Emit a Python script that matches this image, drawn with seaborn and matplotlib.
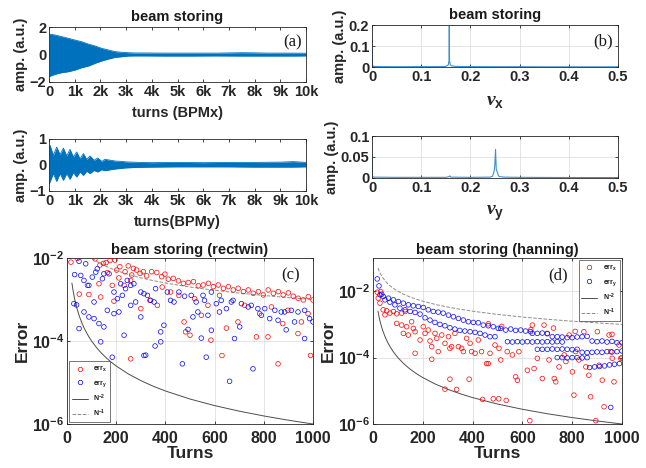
import matplotlib

matplotlib.use("Agg")
import matplotlib.pyplot as plt
import matplotlib.ticker as mticker
import seaborn as sns
from matplotlib.lines import Line2D

# ---- envelope of the turn-by-turn signals ----
bpmx_turns = [0, 233, 493, 752, 1012, 1271, 1530, 1790, 2049, 2309, 2568, 2827, 3087,
              3346, 3735, 4500, 5500, 6500, 7500, 8000, 8500, 9500, 10000]
bpmx_upper = [1.49, 1.42, 1.30, 1.18, 1.05, 0.93, 0.76, 0.62, 0.45, 0.33, 0.21, 0.16, 0.13,
              0.11, 0.11, 0.10, 0.10, 0.10, 0.13, 0.12, 0.10, 0.10, 0.09]
bpmx_lower = [-1.61, -1.44, -1.32, -1.25, -1.13, -0.96, -0.84, -0.64, -0.47, -0.33, -0.21,
              -0.16, -0.11, -0.10, -0.10, -0.11, -0.11, -0.10, -0.11, -0.11, -0.11, -0.11, -0.10]

bpmy_turns = [0, 39, 169, 298, 428, 558, 687, 817, 947, 1077, 1206, 1336, 1466, 1595, 1751,
              1894, 2049, 2179, 2400, 2600, 2800, 3000, 3500, 4000, 5000, 6000, 7000, 8000,
              9000, 9500, 10000]
bpmy_upper = [0.65, 0.76, 0.37, 0.69, 0.40, 0.65, 0.35, 0.60, 0.31, 0.50, 0.24, 0.44, 0.22,
              0.35, 0.18, 0.27, 0.14, 0.22, 0.18, 0.15, 0.14, 0.12, 0.10, 0.09, 0.10, 0.09,
              0.10, 0.10, 0.11, 0.13, 0.10]
bpmy_lower = [-0.75, -0.65, -0.33, -0.63, -0.33, -0.59, -0.33, -0.55, -0.29, -0.46, -0.27,
              -0.40, -0.24, -0.33, -0.21, -0.27, -0.18, -0.22, -0.18, -0.15, -0.13, -0.11,
              -0.09, -0.08, -0.07, -0.07, -0.07, -0.08, -0.08, -0.08, -0.07]

turn_ticks = [0, 1000, 2000, 3000, 4000, 5000, 6000, 7000, 8000, 9000, 10000]
turn_tick_labels = ["0", "1k", "2k", "3k", "4k", "5k", "6k", "7k", "8k", "9k", "10k"]

# ---- spectra ----
nux = [0, 0.0005, 0.003, 0.02, 0.05, 0.1, 0.14, 0.15, 0.152, 0.155, 0.1565, 0.157, 0.1575,
       0.159, 0.162, 0.17, 0.2, 0.25, 0.3, 0.35, 0.4, 0.45, 0.5]
ampx = [0.13, 0.01, 0.003, 0.002, 0.0015, 0.002, 0.002, 0.003, 0.006, 0.01, 0.03, 0.195,
        0.03, 0.01, 0.005, 0.003, 0.002, 0.0015, 0.0015, 0.001, 0.001, 0.001, 0.001]
nuy = [0, 0.0005, 0.003, 0.05, 0.1, 0.15, 0.156, 0.158, 0.16, 0.2, 0.24, 0.245, 0.247,
       0.248, 0.2495, 0.251, 0.2525, 0.254, 0.255, 0.257, 0.26, 0.27, 0.3, 0.4, 0.5]
ampy = [0.055, 0.004, 0.002, 0.0015, 0.0015, 0.0015, 0.003, 0.005, 0.002, 0.0015, 0.002,
        0.004, 0.012, 0.015, 0.03, 0.068, 0.02, 0.016, 0.013, 0.005, 0.003, 0.002, 0.0015,
        0.001, 0.001]

# ---- tune errors, (turns, log10 error) ----
rect_errx = [
    (16, -2.10), (42, -2.01), (114, -2.02), (134, -2.17), (148, -2.13), (159, -2.11),
    (175, -2.06), (195, -2.05), (164, -2.35), (202, -2.29), (215, -2.21), (236, -2.33),
    (249, -2.19), (263, -2.41), (270, -2.25), (283, -2.29), (297, -2.37), (310, -2.33),
    (324, -2.43), (344, -2.33), (365, -2.35), (385, -2.45), (398, -2.39), (412, -2.51),
    (432, -2.49), (453, -2.55), (473, -2.61), (493, -2.59), (514, -2.57), (534, -2.67),
    (554, -2.65), (575, -2.61), (595, -2.69), (615, -2.65), (636, -2.73), (656, -2.69),
    (676, -2.77), (696, -2.73), (717, -2.81), (737, -2.77), (757, -2.85), (778, -2.81),
    (798, -2.89), (818, -2.77), (839, -2.85), (859, -2.81), (879, -2.89), (900, -2.84),
    (920, -2.92), (940, -2.97), (961, -3.01), (981, -2.93), (1000, -3.01),
    (50, -2.87), (83, -2.66), (89, -2.88), (137, -2.94), (130, -2.62), (184, -2.66),
    (191, -3.04), (211, -2.48), (232, -2.66), (259, -2.54), (300, -3.22), (337, -3.02),
    (387, -2.70), (367, -3.14), (421, -2.82), (455, -2.90), (476, -3.54), (482, -3.78),
    (259, -4.43), (519, -2.98), (546, -3.38), (585, -3.98), (648, -3.69), (695, -3.54),
    (630, -4.35), (770, -3.90), (817, -3.90), (858, -4.55), (939, -3.82), (990, -4.35),
    (783, -3.34), (877, -3.58), (898, -3.26), (953, -3.54), (980, -3.34), (573, -3.14),
    (620, -2.90), (722, -3.14), (831, -3.18), (500, -3.86),
]
rect_erry = [
    (28, -3.10), (49, -3.70), (31, -2.40), (56, -2.42), (49, -2.08), (76, -2.14),
    (69, -2.54), (89, -2.66), (103, -2.46), (117, -2.34), (123, -2.26), (144, -2.50),
    (150, -2.38), (171, -2.38), (69, -3.30), (89, -3.42), (110, -3.46), (130, -3.58),
    (150, -3.66), (137, -4.02), (110, -3.06), (164, -3.26), (191, -3.34), (211, -3.30),
    (232, -3.86), (184, -4.39), (191, -2.82), (205, -2.98), (225, -2.90), (238, -2.74),
    (259, -2.66), (259, -3.14), (279, -3.06), (300, -3.42), (313, -4.35), (313, -2.86),
    (327, -2.90), (340, -3.02), (354, -3.06), (360, -2.74), (381, -4.02), (394, -3.62),
    (381, -3.78), (408, -2.82), (421, -3.02), (435, -3.06), (455, -2.82), (469, -4.55),
    (218, -2.62), (245, -2.54), (272, -2.62), (300, -2.82), (478, -2.92), (525, -3.06),
    (505, -2.90), (512, -3.42), (492, -3.72), (546, -3.93), (566, -4.39), (587, -3.74),
    (627, -3.02), (648, -3.22), (661, -4.97), (675, -3.02), (702, -3.66), (737, -3.18),
    (756, -4.67), (776, -3.22), (790, -3.38), (824, -3.46), (858, -3.50), (871, -3.30),
    (891, -3.73), (912, -3.26), (925, -3.54), (966, -3.94), (986, -3.46), (1000, -3.54),
    (681, -3.94), (607, -3.10), (559, -3.02), (532, -3.30), (573, -3.38), (620, -3.30),
    (668, -3.06), (709, -3.10), (749, -3.14), (804, -3.22), (845, -3.26), (885, -3.30),
    (939, -3.30), (966, -3.26), (587, -2.82), (553, -2.90), (320, -4.34), (358, -4.12),
    (39, -3.13),
]
hann_errx = [
    (17, -2.03), (31, -2.01), (21, -2.21), (28, -2.36), (41, -2.56), (55, -2.59),
    (68, -2.66), (48, -2.71), (82, -2.61), (95, -2.68), (115, -2.66), (129, -2.61),
    (95, -2.97), (115, -3.02), (135, -3.07), (155, -2.92), (162, -3.12), (122, -3.27),
    (142, -3.32), (169, -3.22), (189, -3.47), (202, -3.07), (209, -3.27), (222, -3.17),
    (229, -3.50), (236, -3.67), (249, -3.27), (256, -3.42), (262, -3.82), (276, -3.32),
    (289, -3.57), (303, -3.37), (309, -3.72), (316, -3.67), (329, -3.27), (343, -3.67),
    (356, -3.72), (363, -3.82), (376, -3.42), (390, -3.57), (396, -3.82), (410, -3.87),
    (423, -3.47), (436, -3.82), (456, -4.18), (463, -4.18), (470, -3.87), (490, -3.62),
    (169, -3.87), (236, -4.05), (309, -4.65), (289, -4.95), (336, -4.96), (386, -4.65),
    (440, -5.26), (483, -5.24), (505, -5.24), (535, -5.29), (506, -3.72), (513, -4.07),
    (539, -3.82), (560, -3.92), (573, -4.58), (580, -4.68), (586, -3.82), (620, -4.38),
    (640, -3.02), (647, -4.33), (660, -4.02), (680, -4.63), (687, -3.02), (700, -3.27),
    (707, -4.07), (728, -4.63), (734, -4.73), (747, -4.28), (768, -3.92), (775, -4.12),
    (788, -3.32), (801, -4.43), (807, -5.13), (814, -3.82), (827, -4.07), (847, -3.22),
    (855, -4.28), (867, -4.53), (874, -5.18), (895, -5.90), (901, -3.22), (908, -4.23),
    (921, -4.68), (928, -5.48), (948, -3.32), (955, -3.82), (961, -4.02), (968, -4.73),
    (988, -3.62), (995, -4.02), (630, -5.90), (1000, -4.00), (463, -2.98), (517, -3.06),
    (634, -3.16), (725, -3.11), (812, -3.21), (960, -3.30),
]
hann_erry = [
    (17, -1.63), (24, -1.84), (28, -2.11), (35, -2.09),
    (41, -2.16), (62, -2.21), (82, -2.26), (102, -2.31), (122, -2.36), (142, -2.41),
    (162, -2.44), (182, -2.46), (202, -2.49), (222, -2.56), (242, -2.61), (262, -2.63),
    (282, -2.66), (303, -2.72), (323, -2.77), (343, -2.82), (363, -2.87), (383, -2.92),
    (403, -2.94), (423, -2.95), (443, -3.02), (463, -3.04), (483, -3.07), (503, -3.12),
    (48, -2.26), (68, -2.33), (88, -2.41), (108, -2.51), (129, -2.56), (149, -2.61),
    (169, -2.64), (189, -2.69), (209, -2.80), (229, -2.87), (249, -2.94), (269, -3.00),
    (289, -3.04), (309, -3.10), (329, -3.14), (349, -3.18), (369, -3.20), (390, -3.22),
    (410, -3.24), (430, -3.27), (450, -3.32), (470, -3.37), (490, -3.37),
    (513, -3.12), (533, -3.17), (553, -3.14), (573, -3.18), (593, -3.17), (613, -3.20),
    (633, -3.22), (640, -3.27), (660, -3.27), (680, -3.26), (700, -3.28),
    (720, -3.37), (740, -3.37), (760, -3.38), (780, -3.40), (800, -3.40), (820, -3.38),
    (840, -3.37), (860, -3.36),
    (540, -3.52), (560, -3.53), (580, -3.52), (600, -3.53), (620, -3.52), (640, -3.53),
    (660, -3.52), (680, -3.53), (700, -3.52), (720, -3.53), (740, -3.52), (760, -3.53),
    (880, -3.50), (900, -3.52), (920, -3.50), (940, -3.53), (960, -3.51), (980, -3.55),
    (1000, -3.55),
    (660, -3.75), (680, -3.75), (700, -3.75), (720, -3.74), (740, -3.75), (760, -3.74),
    (780, -3.75), (800, -3.76), (820, -3.75),
    (840, -3.84), (860, -3.85), (880, -3.84), (900, -3.83), (920, -3.84), (940, -3.82),
    (960, -3.83), (980, -3.82), (1000, -3.80),
    (740, -4.00), (760, -4.00), (780, -4.01), (800, -4.00), (820, -4.00), (840, -4.01),
    (860, -4.00),
    (870, -4.30), (890, -4.28), (910, -4.27), (930, -4.25), (950, -4.22), (970, -4.20),
    (990, -4.18), (955, -5.50),
]

# turns at which the N^-1 / N^-2 reference curves are evaluated
ref_turns = [20, 25, 30, 35, 40, 50, 60, 70, 80, 90, 100, 120, 140, 160, 180, 200, 250,
             300, 350, 400, 500, 600, 700, 800, 900, 1000]

BLUE = "#0072BD"
SPEC = "#3d8fd1"
GRID = "#d9d9d9"

sns.set_theme(style="ticks")
plt.rcParams.update({
    "font.family": ["Liberation Sans", "DejaVu Sans"],
    "font.weight": "bold",
    "axes.labelweight": "bold",
    "axes.titleweight": "bold",
    "mathtext.fontset": "custom",
    "mathtext.rm": "Liberation Sans:bold",
    "mathtext.bf": "Liberation Sans:bold",
    "mathtext.it": "Liberation Serif:italic",
    "mathtext.default": "rm",
    "axes.edgecolor": "#262626",
    "axes.linewidth": 0.6,
    "xtick.direction": "in",
    "ytick.direction": "in",
    "xtick.top": True,
    "ytick.right": True,
    "xtick.major.size": 2.5,
    "ytick.major.size": 2.5,
    "xtick.major.width": 0.6,
    "ytick.major.width": 0.6,
    "xtick.labelsize": 10.5,
    "ytick.labelsize": 10.5,
    "xtick.major.pad": 2.5,
    "ytick.major.pad": 2,
    "xtick.color": "#262626",
    "ytick.color": "#262626",
    "text.color": "#1a1a1a",
})


def unpack(pairs):
    turns = [p[0] for p in pairs]
    errs = [10.0 ** p[1] for p in pairs]
    return turns, errs


fig = plt.figure(figsize=(6.46, 4.68), dpi=100)

ax_a = fig.add_axes([0.0759, 0.8248, 0.3978, 0.1175])
ax_b = fig.add_axes([0.5759, 0.8568, 0.3808, 0.0897])
ax_a2 = fig.add_axes([0.0759, 0.5919, 0.3978, 0.1111])
ax_b2 = fig.add_axes([0.5759, 0.6197, 0.3808, 0.0897])
ax_c = fig.add_axes([0.1037, 0.0940, 0.3808, 0.3547])
ax_d = fig.add_axes([0.5774, 0.0940, 0.3854, 0.3547])

# turn-by-turn signals
for ax, turns, up, lo, ylim, yt, xlabel in [
    (ax_a, bpmx_turns, bpmx_upper, bpmx_lower, (-2, 2), [-2, 0, 2], "turns (BPMx)"),
    (ax_a2, bpmy_turns, bpmy_upper, bpmy_lower, (-1, 1), [-1, 0, 1], "turns(BPMy)"),
]:
    ax.fill_between(turns, lo, up, color=BLUE, lw=0)
    sns.lineplot(x=turns, y=up, ax=ax, color=BLUE, lw=0.6)
    sns.lineplot(x=turns, y=lo, ax=ax, color=BLUE, lw=0.6)
    ax.set_xlim(0, 10000)
    ax.set_ylim(*ylim)
    ax.xaxis.set_major_locator(mticker.FixedLocator(turn_ticks))
    ax.xaxis.set_major_formatter(mticker.FixedFormatter(turn_tick_labels))
    ax.set_yticks(yt)
    ax.set_ylabel("amp. (a.u.)", fontsize=10.5, labelpad=1)
    ax.set_xlabel(xlabel, fontsize=10.5, labelpad=5)
ax_a.set_title("beam storing", fontsize=10.5, pad=4)
ax_a.text(0.983, 0.72, "(a)", transform=ax_a.transAxes, ha="right", va="center",
          family="Liberation Serif", fontweight="normal", fontsize=12)

# spectra
for ax, nu, amp, ylim, yt, ytl, xlabel in [
    (ax_b, nux, ampx, (0, 0.2), [0, 0.1, 0.2], ["0", "0.1", "0.2"], r"$\mathit{\nu}_{\mathrm{x}}$"),
    (ax_b2, nuy, ampy, (0, 0.1), [0, 0.05, 0.1], ["0", "0.05", "0.1"], r"$\mathit{\nu}_{\mathrm{y}}$"),
]:
    ax.grid(True, color=GRID, lw=0.5)
    sns.lineplot(x=nu, y=amp, ax=ax, color=SPEC, lw=0.8)
    ax.set_xlim(0, 0.5)
    ax.set_ylim(*ylim)
    ax.set_xticks([0, 0.1, 0.2, 0.3, 0.4, 0.5])
    ax.set_xticklabels(["0", "0.1", "0.2", "0.3", "0.4", "0.5"])
    ax.set_yticks(yt)
    ax.set_yticklabels(ytl)
    ax.set_ylabel("amp. (a.u.)", fontsize=10.5, labelpad=1)
    ax.set_xlabel(xlabel, fontsize=14, labelpad=6)
ax_b.set_title("beam storing", fontsize=10.5, pad=4)
ax_b.text(0.98, 0.6, "(b)", transform=ax_b.transAxes, ha="right", va="center",
          family="Liberation Serif", fontweight="normal", fontsize=12)

# tune error panels
n_inv2 = [n ** -2.0 for n in ref_turns]
n_inv1 = [n ** -1.0 for n in ref_turns]

legend_handles = [
    Line2D([], [], ls="none", marker="o", mfc="none", mec="red", ms=3.2, mew=0.5),
    Line2D([], [], ls="none", marker="o", mfc="none", mec="blue", ms=3.2, mew=0.5),
    Line2D([], [], color="0.3", lw=0.7),
    Line2D([], [], color="0.55", lw=0.7, ls="--"),
]
legend_labels = [r"err$_{\mathrm{x}}$", r"err$_{\mathrm{y}}$", r"N$^{-2}$", r"N$^{-1}$"]

for ax, ex, ey, ylim, title, tag, tag_x, loc in [
    (ax_c, rect_errx, rect_erry, (1e-6, 1e-2), "beam storing (rectwin)", "(c)", 0.947, "lower left"),
    (ax_d, hann_errx, hann_erry, (1e-6, 1e-1), "beam storing (hanning)", "(d)", 0.783, "upper right"),
]:
    ax.grid(True, color=GRID, lw=0.5)
    tx, vx = unpack(ex)
    ty, vy = unpack(ey)
    sns.scatterplot(x=tx, y=vx, ax=ax, marker="o", s=11, facecolor="none",
                    edgecolor="red", linewidth=0.5, legend=False, zorder=3)
    sns.scatterplot(x=ty, y=vy, ax=ax, marker="o", s=11, facecolor="none",
                    edgecolor="blue", linewidth=0.5, legend=False, zorder=3)
    sns.lineplot(x=ref_turns, y=n_inv2, ax=ax, color="0.3", lw=0.7)
    sns.lineplot(x=ref_turns, y=n_inv1, ax=ax, color="0.55", lw=0.7, ls="--")
    ax.set_yscale("log")
    ax.set_xlim(0, 1000)
    ax.set_ylim(*ylim)
    ax.set_xticks([0, 200, 400, 600, 800, 1000])
    ax.set_xticklabels(["0", "200", "400", "600", "800", "1000"])
    ax.yaxis.set_major_locator(mticker.FixedLocator([1e-6, 1e-4, 1e-2]))
    ax.yaxis.set_major_formatter(mticker.FixedFormatter([r"10$^{-6}$", r"10$^{-4}$", r"10$^{-2}$"]))
    ax.yaxis.set_minor_locator(mticker.NullLocator())
    ax.tick_params(labelsize=11.5)
    ax.tick_params(axis="x", pad=5)
    ax.set_xlabel("Turns", fontsize=12.5, labelpad=0)
    ax.set_ylabel("Error", fontsize=12.5, labelpad=1)
    ax.set_title(title, fontsize=10.5, pad=3)
    ax.text(tag_x, 0.898, tag, transform=ax.transAxes, ha="right", va="center",
            family="Liberation Serif", fontweight="normal", fontsize=12)
    leg = ax.legend(legend_handles, legend_labels, loc=loc, fontsize=5, frameon=True,
                    fancybox=False, edgecolor="0.25", framealpha=1, borderpad=0.4,
                    labelspacing=0.55, handlelength=2.3, borderaxespad=0.3)
    leg.get_frame().set_linewidth(0.5)

fig.savefig("out.png", dpi=100)
